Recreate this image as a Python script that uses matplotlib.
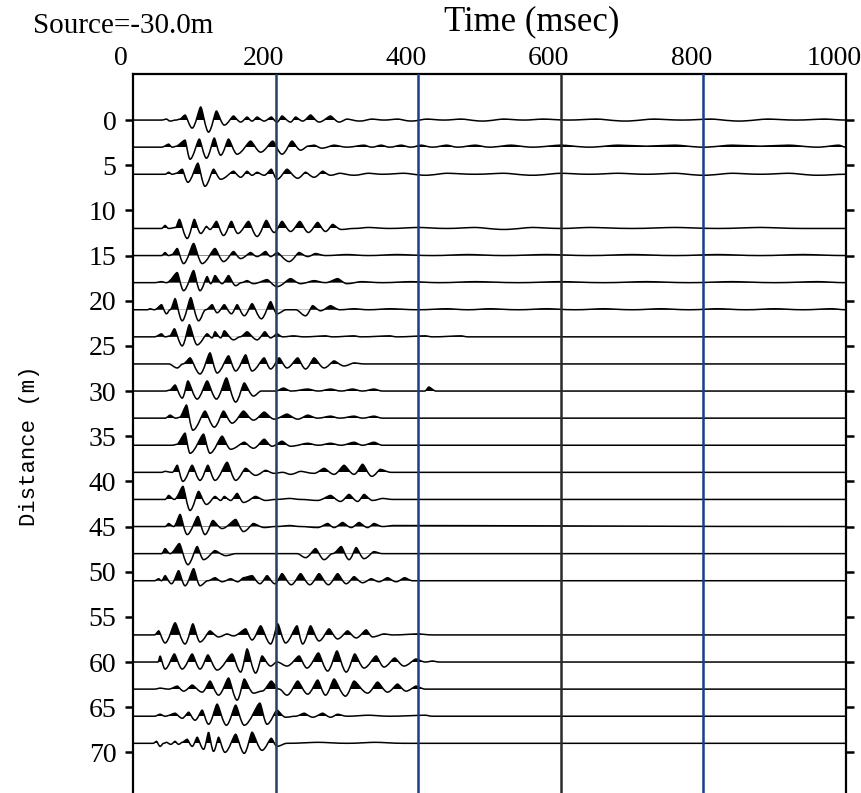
'''Seismic wiggle section: shot gather for a source at -30 m'''

import numpy as np
import matplotlib.pyplot as plt
from matplotlib.path import Path
from matplotlib.patches import PathPatch, Rectangle
from matplotlib.transforms import ScaledTranslation

plt.rcParams['font.family'] = ['Liberation Serif', 'DejaVu Serif']

source_label = 'Source=-30.0m'
time_ticks = [0, 200, 400, 600, 800, 1000]
distance_ticks = [0, 5, 10, 15, 20, 25, 30, 35, 40, 45, 50, 55, 60, 65, 70]
marker_times = [200, 400, 600, 800]
marker_colors = ['#233f63', '#1b3f86', '#2b2b2b', '#1c3c8e']

# picked extrema of each trace: (time in msec, amplitude, positive = up)
trace_00 = [(40, 0), (47, 1), (52, -1), (60, 0), (66, 1), (73, 5), (83, -8), (95, 13), (106, -12),
            (117, 9), (128, -5), (141, 4), (151, -2), (160, 3), (167, -1), (174, 3), (184, -1),
            (194, 3), (202, -2), (209, 4), (221, -2), (228, 3), (238, -1), (249, 5), (261, -2),
            (277, 4), (289, -2), (300, 1), (318, -1), (335, 1), (352, 0), (371, 1), (390, -1),
            (412, 1), (436, 0), (460, 1), (490, -1), (520, 1), (548, 0), (575, 1), (610, 0),
            (650, 1), (690, -1), (730, 1), (770, 0), (810, 1), (850, -1), (890, 1), (930, 0),
            (970, 1)]
trace_03 = [(40, 0), (50, 3), (55, 0), (61, 1), (73, 7), (80, -12), (93, 8), (103, -11), (114, 9),
            (123, -8), (134, 8), (146, -7), (165, 6), (179, -5), (196, 6), (209, -7), (223, 6),
            (235, -3), (245, 1), (254, 2), (265, -1), (282, 2), (300, 0), (324, 2), (335, 0),
            (348, 2), (360, 0), (376, 2), (390, 0), (404, 2), (420, 0), (440, 2), (455, 0),
            (480, 2), (500, 0), (530, 2), (560, 0), (600, 2), (640, 0), (680, 2), (720, 1),
            (760, 2), (800, 0), (840, 2), (880, 1), (920, 2), (960, 0), (990, 2)]
trace_06 = [(45, 0), (50, 2), (55, 0), (61, 1), (69, 5), (77, -8), (91, 11), (101, -12), (113, 5),
            (123, -5), (141, 3), (151, -3), (160, 3), (167, -1), (174, 2), (184, -1), (194, 5),
            (202, -5), (216, 5), (231, -4), (242, 2), (254, -3), (266, 3), (277, -1), (290, 1),
            (310, -1), (330, 1), (350, 0), (380, 1), (410, -1), (440, 1), (480, 0), (520, 1),
            (560, -1), (600, 1), (640, 0), (680, 1), (720, 0), (760, 1), (800, -1), (840, 1),
            (880, 0), (920, 1), (960, -1)]
trace_12 = [(40, 0), (45, 3), (50, 0), (60, 1), (65, 9), (76, -10), (86, 9), (95, -5), (103, 2),
            (108, -1), (117, 7), (127, -7), (138, 7), (147, -5), (162, 7), (174, -8), (187, 8),
            (198, -4), (209, 7), (221, -3), (234, 7), (246, -4), (259, 6), (270, -3), (280, 4),
            (292, -1), (310, 0), (330, 1), (360, 0), (400, 1), (440, 0), (480, 1), (520, -1),
            (560, 1), (600, 0), (640, 1), (700, 0), (760, 1), (820, 0), (880, 1), (940, 0)]
trace_15 = [(40, 0), (45, 3), (50, 0), (55, 1), (62, 7), (71, -8), (85, 12), (97, -8), (115, 7),
            (127, -6), (141, 4), (151, -3), (165, 3), (174, -1), (186, 4), (193, -1), (202, 3),
            (219, -6), (233, 3), (245, -1), (256, 2), (270, 0), (300, 1), (330, 0), (370, 1),
            (420, 0), (470, 1), (520, 0), (580, 1), (640, 0), (700, 1), (760, 0), (820, 1),
            (880, 0), (940, 1)]
trace_18 = [(30, 0), (40, 1), (47, 0), (62, 10), (71, -8), (85, 12), (94, -8), (104, 6), (109, -1),
            (115, 7), (125, -1), (134, 7), (144, -3), (152, 0), (160, 2), (169, -1), (188, 3),
            (202, -4), (221, 4), (235, -1), (254, 2), (270, 0), (287, 4), (300, -1), (320, 1),
            (350, 0), (390, 1), (430, 0), (480, 1), (540, 0), (600, 1), (660, 0), (720, 1),
            (780, 0), (840, 1), (900, 0), (960, 1)]
trace_21 = [(20, 0), (24, 1), (30, 0), (40, 5), (47, -4), (52, 0), (59, 11), (69, -11), (81, 12),
            (92, -11), (102, 0), (111, 5), (118, -3), (128, 5), (138, -4), (146, 5), (156, -6),
            (167, 6), (180, -9), (193, 8), (202, -4), (215, 0), (228, 0), (242, -6), (252, 4),
            (263, -1), (277, 4), (290, 0), (310, 1), (330, 0), (360, 1), (400, 0), (440, 1),
            (470, 0), (500, 1), (540, 0), (580, 1), (620, 0), (660, 1), (700, 0), (740, 1),
            (780, 0), (820, 1), (860, 0), (900, 1), (940, 0), (980, 1)]
trace_24 = [(30, 0), (40, 3), (45, 0), (52, 1), (58, 8), (69, -9), (79, 12), (90, -8), (104, 3),
            (111, -1), (115, 5), (123, -1), (128, 6), (141, -3), (150, 0), (160, 5), (174, -3),
            (185, 5), (193, -1), (202, 3), (210, 0), (225, 1), (240, 0), (270, 1), (280, 0),
            (310, 1), (320, 0), (360, 1), (370, 0), (410, 1), (420, 0), (460, 1), (470, 0)]
trace_27 = [(50, 0), (62, -4), (70, 0), (80, 6), (94, -10), (108, 11), (118, -9), (134, 8),
            (144, -7), (158, 9), (167, -7), (184, 6), (193, -5), (205, 6), (216, -4), (231, 6),
            (242, -5), (254, 6), (268, -4), (282, 3), (296, -2), (310, 1), (325, 0)]
trace_30 = [(45, 0), (52, 1), (59, 6), (69, -7), (77, 10), (90, -8), (104, 10), (117, -8),
            (131, 13), (144, -11), (156, 8), (169, -5), (180, 0), (200, 0), (211, 3), (222, 0),
            (245, 2), (260, 0), (277, 2), (292, 0), (308, 2), (322, 0), (338, 2), (350, 0),
            (409, 0), (415, 4), (425, 0)]
trace_33 = [(45, 0), (52, 3), (60, 0), (66, 1), (75, 13), (84, -12), (101, 7), (114, -9),
            (127, 7), (139, -5), (155, 7), (169, -2), (184, 6), (198, -1), (216, 4), (231, -1),
            (245, 3), (259, 0), (277, 2), (290, 0), (310, 2), (322, 0), (338, 2), (350, 0)]
trace_36 = [(55, 0), (62, 1), (73, 12), (80, -8), (99, 11), (108, -8), (125, 9), (137, -4),
            (156, 3), (169, -3), (184, 6), (195, -1), (209, 4), (221, -1), (245, 2), (260, 0),
            (277, 2), (292, 0), (310, 3), (322, 0), (338, 3), (350, 0)]
trace_39 = [(40, 0), (45, 1), (55, 0), (62, 7), (70, -9), (83, 7), (94, -8), (105, 7), (115, -8),
            (132, 10), (144, -8), (158, 4), (172, -3), (186, 2), (198, -1), (210, 0), (221, -2),
            (235, 1), (254, -1), (268, 4), (282, -2), (296, 7), (310, -2), (322, 8), (335, -4),
            (347, 3), (362, 0)]
trace_42 = [(45, 0), (50, 4), (58, 0), (70, 13), (80, -11), (92, 8), (103, -5), (115, 3),
            (123, -1), (128, 3), (137, -1), (146, 6), (155, -3), (172, 3), (186, -1), (200, 0),
            (220, 1), (235, 0), (259, -1), (277, 4), (291, -2), (303, 5), (315, -2), (324, 5),
            (336, -1), (350, 1), (365, 0)]
trace_45 = [(45, 0), (50, 3), (57, 0), (66, 12), (76, -8), (91, 10), (101, -8), (112, 6),
            (125, -2), (144, 7), (155, -5), (169, 3), (184, -1), (200, 0), (220, 1), (235, 0),
            (259, -1), (273, 3), (282, -1), (294, 4), (306, -1), (317, 4), (329, -1), (338, 3),
            (350, 0), (365, 1)]
trace_48 = [(40, 0), (45, 5), (52, 0), (65, 10), (77, -11), (90, 7), (99, -6), (115, 3),
            (130, -2), (145, 0), (230, 0), (242, -4), (256, 5), (268, -6), (280, 0), (292, 7),
            (303, -6), (313, 6), (324, -5), (338, 2), (350, 0)]
trace_51 = [(30, 0), (36, 2), (40, 0), (45, 5), (54, -3), (64, 10), (73, -5), (85, 12), (94, -5),
            (105, 0), (115, 3), (125, -1), (137, 2), (147, -1), (155, 3), (167, 5), (178, -3),
            (188, 5), (199, -3), (209, 7), (222, -4), (235, 7), (248, -4), (261, 7), (274, -4),
            (287, 7), (299, -3), (310, 4), (322, -2), (334, 2), (345, -1), (357, 3), (369, -1),
            (381, 3), (392, 0)]
trace_57 = [(30, 0), (36, 4), (45, -8), (59, 12), (73, -9), (84, 11), (94, -7), (108, 4),
            (120, -2), (132, 1), (141, -1), (158, 6), (167, -5), (179, 9), (193, -9), (203, 11),
            (214, -8), (230, 9), (238, -9), (249, 9), (261, -6), (275, 6), (287, -4), (301, 4),
            (313, -3), (327, 5), (336, -2), (352, 1), (365, 0), (400, 1), (420, 0)]
trace_60 = [(35, 0), (38, 6), (45, -7), (58, 8), (69, -7), (83, 8), (94, -7), (105, 7), (118, -8),
            (139, 8), (151, -10), (160, 13), (172, -11), (181, 6), (193, -4), (202, 0), (216, -4),
            (233, 6), (244, -6), (260, 9), (273, -9), (286, 11), (299, -10), (311, 8), (324, -6),
            (341, 6), (352, -5), (367, 4), (380, -4), (397, 3), (410, 0), (420, 1), (430, 0)]
trace_63 = [(30, 0), (38, 1), (50, 0), (62, 3), (71, -2), (83, 4), (97, -3), (108, 8), (120, -6),
            (134, 11), (146, -11), (156, 10), (169, -4), (181, -2), (194, 8), (205, 0), (216, -6),
            (231, 8), (245, -5), (259, 9), (270, -6), (282, 10), (298, -7), (310, 8), (329, -4),
            (343, 7), (357, -3), (371, 5), (383, -2), (397, 3), (410, 0)]
trace_66 = [(30, 0), (38, 2), (45, 0), (59, 3), (69, -2), (78, 4), (87, -4), (97, 6), (106, -8),
            (118, 12), (131, -9), (144, 11), (156, -9), (178, 13), (188, -8), (202, 6), (214, -1),
            (228, 0), (240, 3), (252, -1), (266, 3), (277, -1), (287, 2), (300, 0), (330, 1),
            (360, 0), (410, 1), (420, 0)]
trace_69 = [(28, 0), (33, 2), (38, -3), (43, 0), (47, 1), (53, -1), (59, 2), (64, -1), (69, 1),
            (76, 4), (83, -3), (90, 6), (99, -6), (106, 11), (113, -8), (120, 6), (129, -9),
            (144, 9), (156, -10), (167, 11), (181, -7), (194, 5), (202, -3), (216, 0), (260, 1),
            (300, 0), (340, 1), (380, 0)]

offsets = [0, 3, 6, 12, 15, 18, 21, 24, 27, 30, 33, 36, 39, 42, 45, 48, 51, 57, 60, 63, 66, 69]
traces = [trace_00, trace_03, trace_06, trace_12, trace_15, trace_18, trace_21, trace_24,
          trace_27, trace_30, trace_33, trace_36, trace_39, trace_42, trace_45, trace_48,
          trace_51, trace_57, trace_60, trace_63, trace_66, trace_69]

AMP_SCALE = 1 / 9.0   # amplitude units -> metres of offset


def wiggle_path(t, amp, offset):
    """Bezier path through the picked extrema: pointed peaks, rounder troughs"""
    y = offset - amp
    hand = np.where(amp > 0, 0.2, 0.36)
    verts = [(t[0], y[0])]
    codes = [Path.MOVETO]
    for i in range(len(t) - 1):
        dt = t[i + 1] - t[i]
        verts += [(t[i] + dt * hand[i], y[i]), (t[i + 1] - dt * hand[i + 1], y[i + 1]),
                  (t[i + 1], y[i + 1])]
        codes += [Path.CURVE4] * 3
    return verts, codes


def draw_trace(ax, offset, picks):
    """Draw one variable-area wiggle trace, positive lobes filled black

    :param offset : distance of the trace in m
    :param picks : list of (time, amplitude) pairs
    """
    t = np.array([0] + [p[0] for p in picks] + [1000], dtype=float)
    amp = np.array([0] + [p[1] for p in picks] + [0], dtype=float) * AMP_SCALE
    verts, codes = wiggle_path(t, amp, offset)

    fill_verts = verts + [(t[-1], offset), (t[0], offset), (t[0], offset)]
    fill_codes = codes + [Path.LINETO, Path.LINETO, Path.CLOSEPOLY]
    lobes = PathPatch(Path(fill_verts, fill_codes), facecolor='black', edgecolor='none')
    ax.add_patch(lobes)
    upper = Rectangle((0, offset - 3), 1000, 3, transform=ax.transData)
    lobes.set_clip_path(upper)

    ax.add_patch(PathPatch(Path(verts, codes), facecolor='none', edgecolor='black',
                           linewidth=1.1))


fig = plt.figure(figsize=(8.61, 7.93), dpi=100)
ax = fig.add_axes([133 / 861, 0, (846 - 133) / 861, 1 - 74 / 793])

for offset, picks in zip(offsets, traces):
    draw_trace(ax, offset, picks)

for t_mark, color in zip(marker_times, marker_colors):
    ax.axvline(t_mark, color=color, linewidth=1.8, zorder=3)

ax.set_xlim(0, 1000)
ax.set_ylim(74.5, -5.1)

ax.xaxis.tick_top()
ax.set_xticks(time_ticks)
ax.tick_params(axis='x', length=0, pad=2, labelsize=20)
shift = ScaledTranslation(-12 / 100, 0, fig.dpi_scale_trans)
for label in ax.get_xticklabels():
    label.set_transform(label.get_transform() + shift)

ax.set_yticks(distance_ticks)
ax.tick_params(axis='y', left=True, right=True, direction='out', length=6,
               width=1.8, labelsize=20, pad=6)

ax.spines['bottom'].set_visible(False)
for side in ['top', 'left', 'right']:
    ax.spines[side].set_linewidth(1.6)

fig.text(33 / 861, 1 - 33 / 793, source_label, fontsize=21, ha='left', va='baseline')
fig.text(532 / 861, 1 - 30 / 793, 'Time (msec)', fontsize=25, ha='center', va='baseline')
fig.text(30 / 861, 1 - 446 / 793, 'Distance (m)', fontsize=16, rotation=90,
         ha='center', va='center', family='Liberation Mono')

fig.savefig('out.png', dpi=100)
